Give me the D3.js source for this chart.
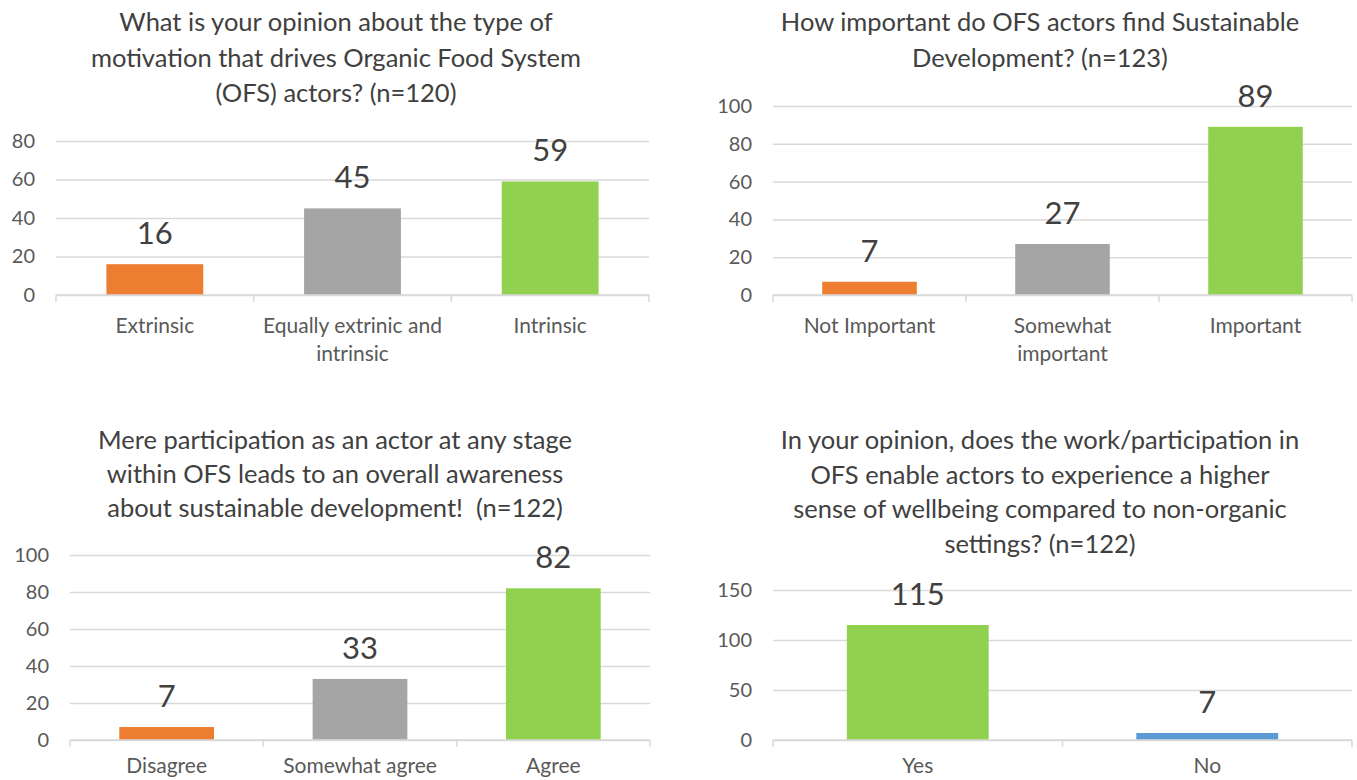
<!DOCTYPE html>
<html>
<head>
<meta charset="utf-8">
<script src="https://cdn.jsdelivr.net/npm/d3@7"></script>
<style>
  body { margin: 0; background: #fff; }
  svg { display: block; }
  text { font-family: Lato, "Open Sans", sans-serif; white-space: pre; }
</style>
</head>
<body>
<svg id="chart" width="1357" height="780"></svg>
<script>
// Data

const titles1 = ["What is your opinion about the type of", "motivation that drives Organic Food System", "(OFS) actors? (n=120)"];
const cats1 = ["Extrinsic", "Equally extrinic and\nintrinsic", "Intrinsic"];
const vals1 = [16, 45, 59];
const ticks1 = [0, 20, 40, 60, 80];

const titles2 = ["How important do OFS actors find Sustainable", "Development? (n=123)"];
const cats2 = ["Not Important", "Somewhat\nimportant", "Important"];
const vals2 = [7, 27, 89];
const ticks2 = [0, 20, 40, 60, 80, 100];

const titles3 = ["Mere participation as an actor at any stage", "within OFS leads to an overall awareness", "about sustainable development!  (n=122)"];
const cats3 = ["Disagree", "Somewhat agree", "Agree"];
const vals3 = [7, 33, 82];
const ticks3 = [0, 20, 40, 60, 80, 100];

const titles4 = ["In your opinion, does the work/participation in", "OFS enable actors to experience a higher", "sense of wellbeing compared to non-organic", "settings? (n=122)"];
const cats4 = ["Yes", "No"];
const vals4 = [115, 7];
const ticks4 = [0, 50, 100, 150];

const orange = '#ED7D31', grey = '#A5A5A5', green = '#92D050', blue = '#5B9BD5';

const svg = d3.select('#chart');

// one panel = one small bar chart
const drawPanel = (p) => {
    const g = svg.append('g');

    const xScale = d3.scaleBand()
        .domain(p.cats)
        .range([p.x0, p.x1])
        .paddingInner(0.51)
        .paddingOuter(0.255);

    const yScale = d3.scaleLinear()
        .domain([0, d3.max(p.ticks)])
        .range([p.base, p.top]);

    // title
    g.append('text')
        .attr('text-anchor', 'middle')
        .attr('fill', '#404040')
        .attr('font-size', '25.5px')
        .selectAll('tspan').data(p.titles)
        .enter().append('tspan')
            .attr('x', p.tx)
            .attr('y', (d, i) => p.ty + i * p.tdy)
            .text(d => d);

    // gridlines + y labels
    const yAxis = d3.axisLeft(yScale)
        .tickValues(p.ticks)
        .tickSize(-(p.x1 - p.x0))
        .tickPadding(21);
    const yAxisG = g.append('g')
        .attr('transform', `translate(${p.x0}, 0)`)
        .call(yAxis);
    yAxisG.select('.domain').remove();
    yAxisG.selectAll('line').attr('stroke', '#D9D9D9').attr('stroke-width', 1.5);
    yAxisG.selectAll('text')
        .attr('fill', '#595959')
        .attr('font-size', '20px')
        .attr('font-family', 'Lato, "Open Sans", sans-serif');

    // bars
    g.selectAll('rect').data(p.cats)
        .enter().append('rect')
            .attr('x', d => xScale(d))
            .attr('width', xScale.bandwidth())
            .attr('y', (d, i) => yScale(p.vals[i]))
            .attr('height', (d, i) => p.base - yScale(p.vals[i]))
            .attr('fill', (d, i) => p.colors[i]);

    // value labels
    g.selectAll('.val').data(p.cats)
        .enter().append('text')
            .attr('class', 'val')
            .attr('x', d => xScale(d) + xScale.bandwidth() / 2)
            .attr('y', (d, i) => yScale(p.vals[i]) - 20)
            .attr('text-anchor', 'middle')
            .attr('fill', '#404040')
            .attr('font-size', '31px')
            .text((d, i) => p.vals[i]);

    // category axis with ticks at band edges
    const edges = d3.range(p.cats.length + 1).map(i => p.x0 + i * (p.x1 - p.x0) / p.cats.length);
    g.append('line')
        .attr('x1', p.x0).attr('x2', p.x1)
        .attr('y1', p.base).attr('y2', p.base)
        .attr('stroke', '#D9D9D9').attr('stroke-width', 1.5);
    g.selectAll('.edge').data(edges)
        .enter().append('line')
            .attr('class', 'edge')
            .attr('x1', d => d).attr('x2', d => d)
            .attr('y1', p.base).attr('y2', p.base + 7)
            .attr('stroke', '#D9D9D9').attr('stroke-width', 1.5);

    g.selectAll('.cat').data(p.cats)
        .enter().append('text')
            .attr('class', 'cat')
            .attr('text-anchor', 'middle')
            .attr('fill', '#595959')
            .attr('font-size', '21px')
            .each(function (d) {
                d3.select(this).selectAll('tspan').data(d.split('\n'))
                    .enter().append('tspan')
                        .attr('x', xScale(d) + xScale.bandwidth() / 2)
                        .attr('y', (t, i) => p.base + p.catOff + i * 28)
                        .text(t => t);
            });
};

drawPanel({titles: titles1, cats: cats1, vals: vals1, ticks: ticks1,
    colors: [orange, grey, green], catOff: 38,
    x0: 56, x1: 649, base: 295, top: 141, tx: 336, ty: 31, tdy: 35.5});

drawPanel({titles: titles2, cats: cats2, vals: vals2, ticks: ticks2,
    colors: [orange, grey, green], catOff: 38,
    x0: 773, x1: 1352, base: 295, top: 106, tx: 1040, ty: 31, tdy: 35.5});

drawPanel({titles: titles3, cats: cats3, vals: vals3, ticks: ticks3,
    colors: [orange, grey, green], catOff: 33,
    x0: 70, x1: 650, base: 740, top: 555, tx: 335, ty: 449, tdy: 34});

drawPanel({titles: titles4, cats: cats4, vals: vals4, ticks: ticks4,
    colors: [green, blue], catOff: 33,
    x0: 773, x1: 1352, base: 740, top: 590, tx: 1040, ty: 449, tdy: 34.5});
</script>
</body>
</html>
